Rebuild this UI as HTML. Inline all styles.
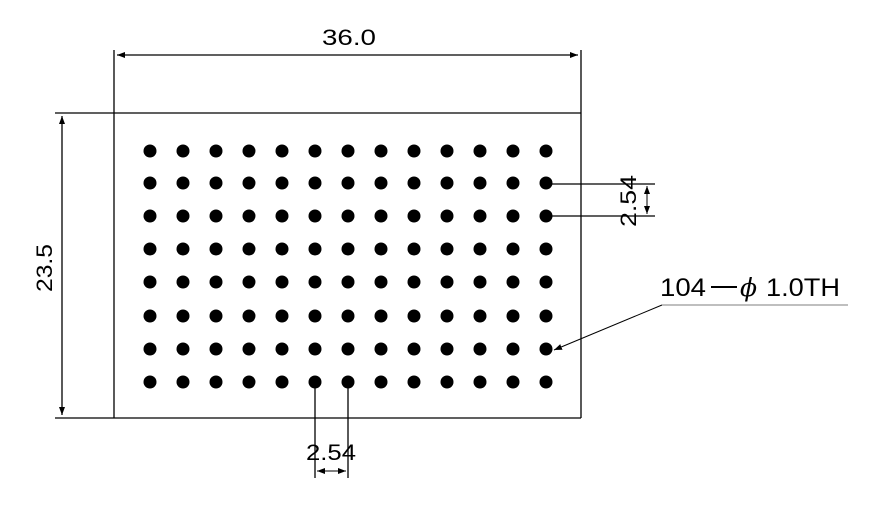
<!DOCTYPE html>
<html><head><meta charset="utf-8"><style>body{margin:0;background:#fff}</style></head><body>
<svg width="881" height="507" viewBox="0 0 881 507" xmlns="http://www.w3.org/2000/svg" font-family="Liberation Sans, sans-serif">
<defs><marker id="a" markerWidth="8" markerHeight="6" refX="8" refY="3" orient="auto" markerUnits="userSpaceOnUse"><path d="M0,0 L8,3 L0,6z" fill="#000"/></marker>
<marker id="b" markerWidth="8" markerHeight="6" refX="0" refY="3" orient="auto" markerUnits="userSpaceOnUse"><path d="M8,0 L0,3 L8,6z" fill="#000"/></marker></defs>
<g stroke="#000" stroke-width="1.3" fill="none">
<line x1="114" y1="50" x2="114" y2="418"/>
<line x1="581" y1="50" x2="581" y2="418"/>
<line x1="55" y1="113" x2="581" y2="113"/>
<line x1="55" y1="418" x2="581" y2="418"/>
<line x1="117" y1="55" x2="578" y2="55" marker-start="url(#b)" marker-end="url(#a)"/>
<line x1="62" y1="116" x2="62" y2="415" marker-start="url(#b)" marker-end="url(#a)"/>
<line x1="546" y1="184" x2="655" y2="184"/>
<line x1="546" y1="216" x2="655" y2="216"/>
<line x1="647" y1="186" x2="647" y2="214" stroke-width="1" marker-start="url(#b)" marker-end="url(#a)"/>
<line x1="315" y1="382" x2="315" y2="478"/>
<line x1="348" y1="382" x2="348" y2="478"/>
<line x1="317" y1="471" x2="346" y2="471" stroke-width="1" marker-start="url(#b)" marker-end="url(#a)"/>
<line x1="662" y1="305" x2="554" y2="350" stroke-width="1" marker-end="url(#a)"/>
<line x1="662" y1="305" x2="848" y2="305" stroke="#999"/>
<line x1="711" y1="287" x2="737" y2="287" stroke-width="2"/>
</g>
<text x="322" y="45" font-size="22" textLength="54" lengthAdjust="spacingAndGlyphs">36.0</text>
<text x="0" y="0" font-size="22" textLength="48" lengthAdjust="spacingAndGlyphs" transform="translate(52,292) rotate(-90)">23.5</text>
<text x="0" y="0" font-size="22" textLength="52" lengthAdjust="spacingAndGlyphs" transform="translate(636,227) rotate(-90)">2.54</text>
<text x="306" y="460" font-size="22" textLength="50" lengthAdjust="spacingAndGlyphs">2.54</text>
<text x="660" y="296" font-size="25"><tspan x="660" textLength="46" lengthAdjust="spacingAndGlyphs">104</tspan><tspan x="740" font-style="italic" font-family="DejaVu Serif, serif">ϕ</tspan><tspan x="766" textLength="74" lengthAdjust="spacingAndGlyphs">1.0TH</tspan></text>
<g fill="#000" id="dots"></g>
</svg>
<script>
var g=document.getElementById('dots'),ys=[151,183,216,249,282,316,349,382];
for(var r=0;r<8;r++)for(var c=0;c<13;c++){var e=document.createElementNS('http://www.w3.org/2000/svg','circle');e.setAttribute('cx',150+c*33);e.setAttribute('cy',ys[r]);e.setAttribute('r',6.5);g.appendChild(e);}
</script>
</body></html>
